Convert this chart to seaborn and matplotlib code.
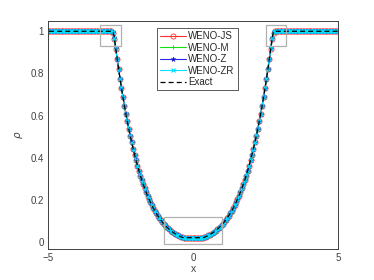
import matplotlib
matplotlib.use("Agg")
import matplotlib.pyplot as plt
import numpy as np
import seaborn as sns
from matplotlib.patches import Rectangle

# cell centres, dx = 0.05 on [-5, 5]
x = np.arange(-4.975, 5.0, 0.05)

# density in the left rarefaction fan, x = -2.725 ... -0.375
fan = [0.9743, 0.9210, 0.8700, 0.8213, 0.7748, 0.7305, 0.6882, 0.6479,
       0.6095, 0.5729, 0.5381, 0.5051, 0.4736, 0.4438, 0.4155, 0.3886,
       0.3632, 0.3391, 0.3163, 0.2947, 0.2744, 0.2551, 0.2370, 0.2199,
       0.2038, 0.1887, 0.1745, 0.1611, 0.1486, 0.1369, 0.1259, 0.1157,
       0.1061, 0.0971, 0.0888, 0.0811, 0.0739, 0.0672, 0.0610, 0.0553,
       0.0500, 0.0452, 0.0407, 0.0366, 0.0328, 0.0293, 0.0262, 0.0233]
n_outer = 45
n_core = 14
core = 0.0219

rho_exact = [1.0] * n_outer + fan + [core] * n_core + fan[::-1] + [1.0] * n_outer

# numerical solutions differ from the exact one only around the fan head
corner_js = [0.999, 0.994, 0.963, 0.917, 0.869]
corner_m = [1.000, 0.996, 0.967, 0.919, 0.870]
corner_z = [1.000, 0.996, 0.968, 0.919, 0.870]
corner_zr = [1.000, 0.997, 0.970, 0.920, 0.870]


def with_corner(corner):
    r = list(rho_exact)
    k = len(corner)
    r[n_outer - 2:n_outer - 2 + k] = corner
    r[len(r) - n_outer + 2 - k:len(r) - n_outer + 2] = corner[::-1]
    return r


series = [
    ("WENO-JS", with_corner(corner_js),
     dict(color="#ff3030", marker="o", mfc="none", mec="#ff3030", ms=3.7, mew=0.6)),
    ("WENO-M", with_corner(corner_m),
     dict(color="#10e010", marker="+", mec="#10e010", ms=3.4, mew=0.7)),
    ("WENO-Z", with_corner(corner_z),
     dict(color="#2828e8", marker="*", mec="#2828e8", mfc="#1a1a70", ms=3.5, mew=0.5)),
    ("WENO-ZR", with_corner(corner_zr),
     dict(color="#00e0ff", marker="x", mec="#00e0ff", ms=3.0, mew=0.8)),
]

# zoom boxes drawn in the figure
boxes = [(-3.2, 0.93, 0.7, 0.10), (2.5, 0.93, 0.7, 0.10), (-1.0, -0.01, 2.0, 0.13)]

sns.set_style("white")
plt.rcParams["font.family"] = ["Liberation Sans", "DejaVu Sans"]
dark = "#404040"

fig = plt.figure(figsize=(3.74, 2.8), dpi=100)
ax = fig.add_axes([0.129, 0.112, 0.7755, 0.814])

for name, rho, style in series:
    sns.lineplot(x=x, y=rho, ax=ax, label=name, lw=0.8, **style)
sns.lineplot(x=x, y=rho_exact, ax=ax, label="Exact", color="black", lw=0.9,
             linestyle=(0, (4, 2.5)))

for bx, by, bw, bh in boxes:
    ax.add_patch(Rectangle((bx, by), bw, bh, fill=False, ec="#b0b0b0", lw=0.9, zorder=5))

ax.set_xlim(-5, 5)
ax.set_ylim(-0.03, 1.05)
ax.set_xticks([-5, 0, 5])
ax.set_yticks([0, 0.2, 0.4, 0.6, 0.8, 1])
ax.set_yticklabels(["0", "0.2", "0.4", "0.6", "0.8", "1"])
ax.tick_params(direction="in", length=3, width=0.6, labelsize=7, colors=dark, pad=3)
for s in ax.spines.values():
    s.set_color(dark)
    s.set_linewidth(0.7)
ax.set_xlabel("x", fontsize=7.5, color=dark, labelpad=1)
ax.set_ylabel(r"$\rho$", fontsize=7.5, color=dark, labelpad=4)

leg = ax.legend(loc="upper left", bbox_to_anchor=(0.376, 0.967), borderaxespad=0,
                fontsize=7, handlelength=2.7, handletextpad=0.2, labelspacing=0.15,
                borderpad=0.3, fancybox=False, framealpha=1, edgecolor=dark)
leg.get_frame().set_linewidth(0.6)

fig.savefig("out.png", dpi=100)
